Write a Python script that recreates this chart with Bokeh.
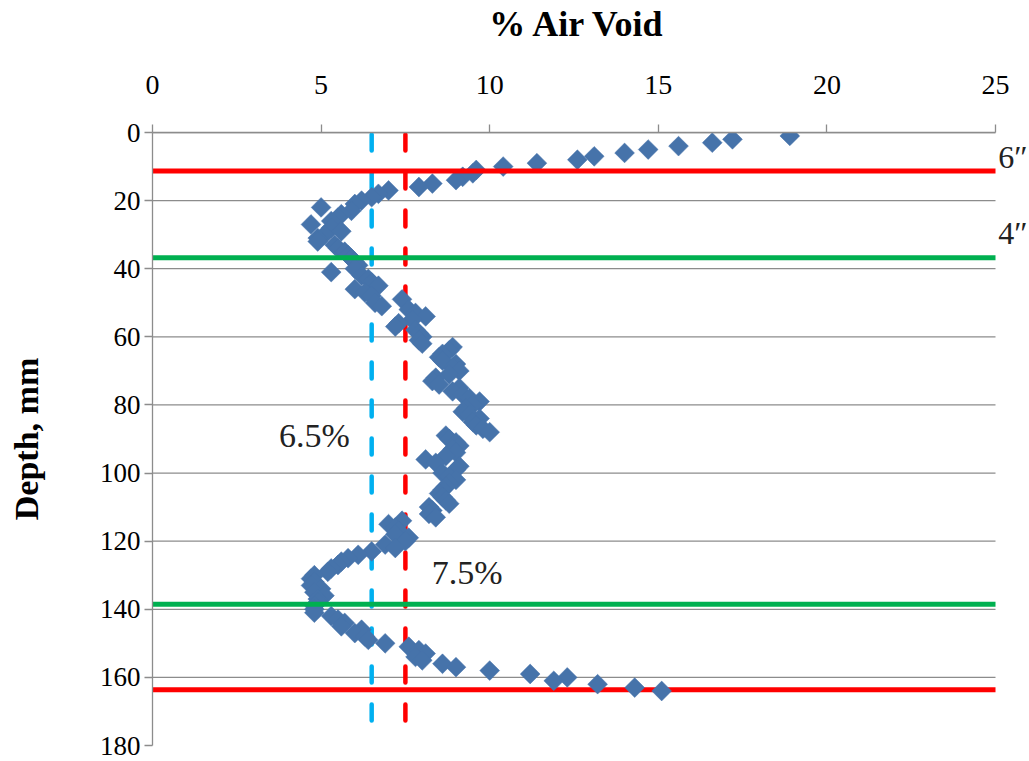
import math
from bokeh.plotting import figure
from bokeh.models import Range1d, FixedTicker, Label, ColumnDataSource
from bokeh.embed import file_html
from bokeh.resources import INLINE

# ---- data ----
depth_mm = [
    1, 2, 3, 4, 5, 6, 7, 8, 9, 10, 11, 12, 13, 14, 15, 16, 17, 18, 19, 20,
    21, 22, 23, 24, 25, 26, 27, 28, 29, 30, 31, 32, 33, 34, 35, 36, 37, 38, 39, 40,
    41, 42, 43, 44, 45, 46, 47, 48, 49, 50, 51, 52, 53, 54, 55, 56, 57, 58, 59, 60,
    61, 62, 63, 64, 65, 66, 67, 68, 69, 70, 71, 72, 73, 74, 75, 76, 77, 78, 79, 80,
    81, 82, 83, 84, 85, 86, 87, 88, 89, 90, 91, 92, 93, 94, 95, 96, 97, 98, 99, 100,
    101, 102, 103, 104, 105, 106, 107, 108, 109, 110, 111, 112, 113, 114, 115, 116, 117, 118, 119, 120,
    121, 122, 123, 124, 125, 126, 127, 128, 129, 130, 131, 132, 133, 134, 135, 136, 137, 138, 139, 140,
    141, 142, 143, 144, 145, 146, 147, 148, 149, 150, 151, 152, 153, 154, 155, 156, 157, 158, 159, 160,
    161, 162, 163, 164,
]
air_void_pct = [
    18.9, 17.2, 16.6, 15.6, 14.7, 14.0, 13.1, 12.6, 11.4, 10.4, 9.6, 9.5, 9.2, 9.0, 8.3, 7.9, 7.0, 6.7, 6.5, 6.2,
    6.0, 5.0, 5.9, 5.6, 5.5, 5.3, 4.7, 5.3, 5.6, 5.1, 4.9, 4.9, 5.4, 5.5, 5.7, 5.8, 5.9, 6.0, 6.1, 6.0,
    5.3, 6.2, 6.4, 6.5, 6.7, 6.0, 6.3, 6.5, 7.4, 6.6, 6.8, 7.6, 7.8, 8.1, 7.7, 7.3, 7.2, 7.8, 7.9, 8.0,
    7.9, 8.0, 8.9, 8.8, 8.6, 8.5, 8.6, 9.0, 8.9, 9.1, 8.8, 8.4, 8.3, 8.5, 9.1, 8.9, 9.2, 9.4, 9.7, 9.5,
    9.3, 9.2, 9.4, 9.7, 9.5, 9.6, 9.8, 10.0, 8.7, 8.8, 9.0, 9.1, 8.9, 9.0, 8.7, 8.1, 8.4, 9.1, 9.0, 8.6,
    8.8, 9.0, 8.8, 8.7, 8.6, 8.5, 8.6, 8.7, 8.8, 8.2, 8.3, 8.2, 8.4, 7.4, 7.0, 7.2, 7.3, 7.2, 7.6, 7.5,
    6.9, 7.2, 6.5, 6.1, 5.8, 5.6, 5.5, 5.3, 5.2, 4.8, 4.7, 4.8, 4.7, 5.0, 4.8, 5.1, 4.9, 4.9, 4.8, 4.8,
    4.8, 5.3, 5.5, 5.7, 5.6, 6.2, 6.0, 6.3, 6.4, 6.9, 7.6, 7.9, 8.1, 7.8, 8.0, 8.6, 9.0, 10.0, 11.2, 12.3,
    11.9, 13.2, 14.3, 15.1,
]
x_ticks = [0, 5, 10, 15, 20, 25]
y_ticks = [0, 20, 40, 60, 80, 100, 120, 140, 160, 180]
grid_depths = [0, 20, 40, 60, 80, 100, 120, 140, 160]
target_voids = [6.5, 7.5]              # vertical dashed lines
target_colors = ["#00B0F0", "#FF0000"]
target_labels = ["6.5%", "7.5%"]
six_inch_depths = [11.3, 163.6]        # red lines (6")
four_inch_depths = [36.8, 138.5]       # green lines (4")
dashed_depth_extent = [0.6, 175.0]

FONT = "Liberation Serif"
GRID = "#8c8c8c"

W, H = 1029, 761
LEFT, TOP, BOTTOM_PAD = 152, 130, 16
X_MAX = 25.0
FRAME_W = W - LEFT
X_END = X_MAX * FRAME_W / 843.0   # frame runs to the page edge so the 6"/4" labels fit

p = figure(width=W, height=H,
           x_range=Range1d(0, X_END), y_range=Range1d(180, 0),
           x_axis_location="above",
           output_backend="svg", toolbar_location=None,
           min_border_left=LEFT, min_border_right=0,
           min_border_top=TOP, min_border_bottom=BOTTOM_PAD)
p.outline_line_color = None
p.background_fill_color = "white"
p.border_fill_color = "white"

p.xgrid.visible = False
p.ygrid.visible = False
p.segment(x0=[0] * len(grid_depths), x1=[X_MAX] * len(grid_depths),
          y0=grid_depths, y1=grid_depths, line_color=GRID, line_width=1.3)

xa = p.xaxis[0]
xa.ticker = FixedTicker(ticks=x_ticks)
xa.bounds = (0, X_MAX)
# trailing no-break spaces re-centre the label over the 0-25 span
xa.axis_label = "% Air Void\u00a0\u00a0\u00a0"
ya = p.yaxis[0]
ya.ticker = FixedTicker(ticks=y_ticks)
ya.axis_label = "Depth, mm"
for ax in (xa, ya):
    ax.axis_line_color = GRID
    ax.axis_line_width = 1.3
    ax.major_tick_line_color = GRID
    ax.major_tick_line_width = 1.3
    ax.major_tick_out = 8
    ax.major_tick_in = 0
    ax.minor_tick_line_color = None
    ax.major_label_text_font = FONT
    ax.major_label_text_font_size = "27px"
    ax.major_label_text_color = "black"
    ax.axis_label_text_font = FONT
    ax.axis_label_text_font_style = "bold"
    ax.axis_label_text_font_size = "34px"
    ax.axis_label_text_color = "black"
xa.major_label_text_font_size = "28px"
xa.axis_label_text_font_size = "36px"
xa.major_label_standoff = 31
xa.axis_label_standoff = 29
ya.major_label_standoff = 4
ya.axis_label_standoff = 52

# vertical dashed target lines (below the markers)
for v, c in zip(target_voids, target_colors):
    p.line([v, v], dashed_depth_extent, line_color=c, line_width=4.5,
           line_dash="16 22", line_cap="round")

# bottom 6" line drawn under the markers
p.line([0, X_MAX], [six_inch_depths[1], six_inch_depths[1]], line_color="#FF0000", line_width=5)

src = ColumnDataSource(dict(x=air_void_pct, y=depth_mm))
p.scatter("x", "y", source=src, marker="square", angle=math.pi / 4, size=14,
          fill_color="#4673AA", line_color="#4673AA", line_width=0.5)

# top 6" line and 4" lines drawn over the markers
p.line([0, X_MAX], [six_inch_depths[0], six_inch_depths[0]], line_color="#FF0000", line_width=5)
for d in four_inch_depths:
    p.line([0, X_MAX], [d, d], line_color="#00B050", line_width=5)

# annotations
def add_text(x, y, t, size="32px"):
    p.add_layout(Label(x=x, y=y, text=t, text_font=FONT, text_font_size=size,
                       text_color="#222222", text_baseline="alphabetic"))

add_text(3.75, 89.0, target_labels[0], "34px")
add_text(8.28, 129.3, target_labels[1], "34px")
add_text(25.08, 7.1, "6\u2033")
add_text(25.08, 29.6, "4\u2033")

open("out.html", "w").write(file_html(p, INLINE))
